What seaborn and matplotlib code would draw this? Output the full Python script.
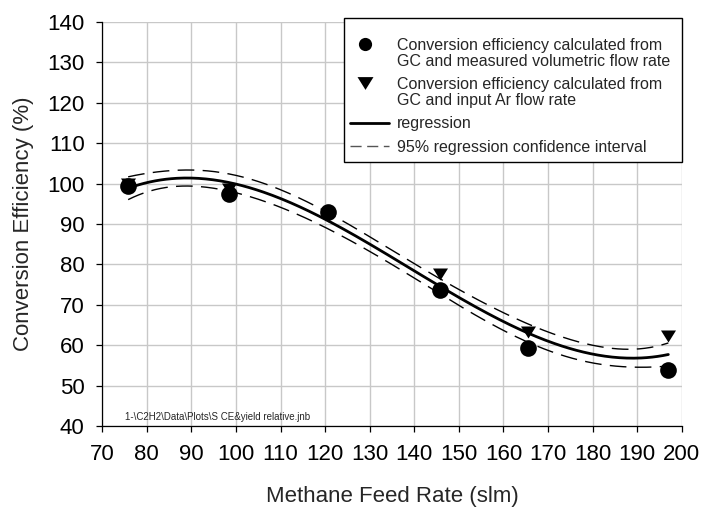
import numpy as np
import matplotlib
matplotlib.use("Agg")
import matplotlib.pyplot as plt
import seaborn as sns
from matplotlib.path import Path
from matplotlib.lines import Line2D
from matplotlib.patches import Rectangle
from matplotlib.legend_handler import HandlerLine2D
from matplotlib.font_manager import FontProperties

# Methane feed rate (slm) for each run
feed_rate = [75.8, 98.4, 120.7, 145.8, 165.6, 197.0]
# Conversion efficiency (%) from GC and measured volumetric flow rate
ce_measured_flow = [99.4, 97.4, 92.9, 73.7, 59.2, 53.9]
# Conversion efficiency (%) from GC and input Ar flow rate
ce_ar_flow = [99.8, 98.6, 92.0, 77.7, 63.3, 62.3]

x_ticks = list(range(70, 201, 10))
y_ticks = list(range(40, 141, 10))

FONT = ["Liberation Sans", "DejaVu Sans"]
sns.set_style("ticks")
plt.rcParams["font.family"] = FONT

# cubic regression over both series, with a band around the fitted mean
x_all = np.array(feed_rate + feed_rate)
y_all = np.array(ce_measured_flow + ce_ar_flow)
deg = 3
X = np.vander(x_all, deg + 1)
coef, *_ = np.linalg.lstsq(X, y_all, rcond=None)
resid = y_all - X @ coef
dof = len(x_all) - (deg + 1)
s2 = resid @ resid / dof
cov = s2 * np.linalg.inv(X.T @ X)
band_k = 1.3  # multiple of the standard error of the fitted mean
xg = np.linspace(min(feed_rate), max(feed_rate), 300)
Xg = np.vander(xg, deg + 1)
y_fit = Xg @ coef
half = band_k * np.sqrt(np.einsum("ij,jk,ik->i", Xg, cov, Xg))

fig = plt.figure(figsize=(7.02, 5.08), dpi=100)
ax = fig.add_axes([102.3 / 702, 1 - 426 / 508, 579.4 / 702, 404 / 508])

ax.set_xlim(70, 200)
ax.set_ylim(40, 140)
ax.set_xticks(x_ticks)
ax.set_yticks(y_ticks)
ax.grid(True, color="#c8c8c8", linewidth=1.0)
ax.set_axisbelow(True)
for side in ("top", "right"):
    ax.spines[side].set_visible(False)
for side in ("left", "bottom"):
    ax.spines[side].set_color("black")
    ax.spines[side].set_linewidth(0.9)
ax.tick_params(axis="both", direction="out", length=4.3, width=0.9,
               color="black", labelsize=16, pad=8.5, labelcolor="black")

tri = Path([(-1, 0.8), (1, 0.8), (0, -0.8), (-1, 0.8)],
           [Path.MOVETO, Path.LINETO, Path.LINETO, Path.CLOSEPOLY])

sns.lineplot(x=xg, y=y_fit, color="black", linewidth=2.0, ax=ax,
             estimator=None, errorbar=None, zorder=3)
for band in (y_fit + half, y_fit - half):
    sns.lineplot(x=xg, y=band, color="black", linewidth=1.0, ax=ax,
                 estimator=None, errorbar=None, linestyle=(0, (12, 6)), zorder=3)
sns.scatterplot(x=feed_rate, y=ce_ar_flow, marker=tri, s=117, color="black",
                linewidth=0, ax=ax, zorder=4)
sns.scatterplot(x=feed_rate, y=ce_measured_flow, marker="o", s=144, color="black",
                linewidth=0, ax=ax, zorder=5)

ax.set_xlabel("Methane Feed Rate (slm)", fontsize=16)
ax.set_ylabel("Conversion Efficiency (%)", fontsize=16)
ax.xaxis.set_label_coords(0.5, -0.148)
ax.yaxis.set_label_coords(-0.118, 0.5)

ax.text(75.1, 42.3, "1-\\C2H2\\Data\\Plots\\S CE&yield relative.jnb",
        fontsize=7, va="center", ha="left")

# legend: markers sit beside the first line of two-line labels
leg_fs = 11.5
leg_ls = 1.07
renderer = fig.canvas.get_renderer()
_, lp_h, lp_d = renderer.get_text_width_height_descent(
    "lp", FontProperties(family=FONT, size=leg_fs), ismath=False)
line_step_pt = (lp_h - lp_d) * leg_ls * 72 / fig.dpi - 2.2


class FirstLineHandler(HandlerLine2D):
    def __init__(self, shift, **kw):
        super().__init__(**kw)
        self.shift = shift

    def create_artists(self, legend, orig_handle, xdescent, ydescent,
                       width, height, fontsize, trans):
        arts = super().create_artists(legend, orig_handle, xdescent, ydescent,
                                      width, height, fontsize, trans)
        for a in arts:
            a.set_ydata(np.asarray(a.get_ydata(), dtype=float) + self.shift)
            a.set_xdata(np.asarray(a.get_xdata(), dtype=float) - 3.5)
        return arts


h_circle = Line2D([], [], marker="o", linestyle="none", color="black",
                  markersize=9.5, markeredgewidth=0)
h_tri = Line2D([], [], marker=tri, linestyle="none", color="black",
               markersize=11.5, markeredgewidth=0)
h_reg = Line2D([], [], color="black", linewidth=2.0)
h_ci = Line2D([], [], color="#555555", linewidth=1.0, linestyle=(0, (8, 4)))

labels = ["Conversion efficiency calculated from\nGC and measured volumetric flow rate",
          "Conversion efficiency calculated from\nGC and input Ar flow rate",
          "regression",
          "95% regression confidence interval"]

fig.add_artist(Rectangle((344 / 702, 1 - 162 / 508), 338 / 702, 144 / 508,
                         transform=fig.transFigure, facecolor="white",
                         edgecolor="black", linewidth=1.0, zorder=2))
leg = fig.legend([h_circle, h_tri, h_reg, h_ci], labels,
                 loc="upper left", bbox_to_anchor=(350 / 702, 1 - 38 / 508),
                 bbox_transform=fig.transFigure, frameon=False,
                 fontsize=leg_fs, borderpad=0, borderaxespad=0,
                 handlelength=2.45, handletextpad=0.48, labelspacing=0.52,
                 handler_map={h_circle: FirstLineHandler(line_step_pt),
                              h_tri: FirstLineHandler(line_step_pt)})
leg.set_zorder(3)
for t in leg.get_texts():
    t.set_linespacing(leg_ls)

fig.savefig("out.png", dpi=100)
